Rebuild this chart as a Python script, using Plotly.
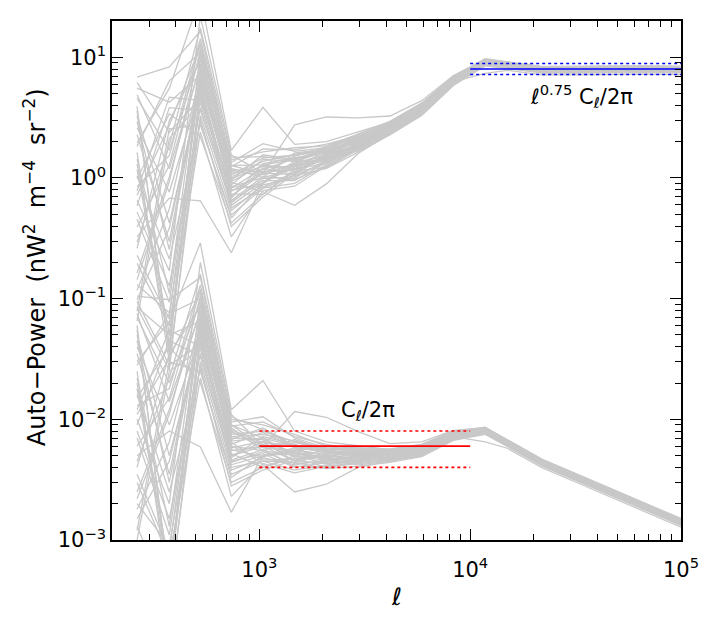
import plotly.graph_objects as go

# multipole bins (low-ell, binned realisations)
ELL = [263, 374, 525, 736, 1040, 1470, 2080, 2940, 4160, 5890, 8330, 11780]
# high-ell tail bins and shared tail shape (units of 1e-3)
ELL_TAIL = [15000, 22000, 33000, 64000, 100000]
TAIL = [6.4, 4.4, 3.25, 2.0, 1.42]

# C_ell/2pi for each simulated realisation, units of 1e-3 nW^2 m^-4 sr^-2
CL = [
    [105, 98, 150, 9.0, 7.0, 6.0, 5.5, 5.0, 5.2, 5.8, 7.6, 8.3],
    [45, 3.0, 60, 6.0, 5.5, 5.0, 4.8, 5.2, 5.0, 5.5, 7.4, 8.1],
    [20, 0.6, 45, 5.0, 6.5, 4.5, 5.0, 4.6, 4.8, 5.6, 7.2, 8.0],
    [8.0, 1.5, 35, 4.2, 5.0, 5.8, 4.5, 4.9, 5.3, 6.0, 7.8, 8.4],
    [2.5, 12, 80, 7.5, 8.0, 6.5, 5.5, 5.3, 5.1, 5.4, 7.5, 8.2],
    [1.2, 30, 25, 3.5, 4.5, 3.8, 4.2, 4.5, 4.7, 5.2, 7.0, 7.9],
    [60, 0.4, 110, 10, 9.0, 7.5, 6.0, 5.8, 5.5, 6.0, 7.7, 8.5],
    [15, 40, 20, 3.0, 4.0, 4.8, 4.0, 4.4, 4.9, 5.3, 7.1, 8.0],
    [5.0, 8.0, 5.9, 1.7, 5.0, 5.2, 4.7, 4.3, 4.6, 5.0, 7.0, 7.8],
    [30, 65, 290, 12, 21, 8.0, 6.5, 6.0, 5.6, 6.2, 8.0, 8.6],
    [3.5, 0.8, 70, 6.5, 4.2, 2.5, 2.9, 4.0, 4.5, 5.1, 6.9, 7.6],
    [12, 55, 40, 5.5, 6.0, 11.6, 10.4, 7.9, 6.3, 6.5, 8.1, 8.5],
    [70, 20, 95, 8.0, 5.8, 5.5, 5.0, 4.8, 5.0, 5.7, 7.5, 8.2],
    [1.5, 4.5, 55, 4.8, 7.2, 6.2, 5.2, 5.5, 5.4, 5.9, 7.6, 8.3],
    [25, 0.35, 30, 3.8, 4.8, 4.2, 4.6, 4.2, 4.5, 5.0, 6.8, 7.7],
    [6.0, 15, 120, 9.5, 10.5, 7.0, 5.8, 5.5, 5.2, 5.6, 7.4, 8.1],
    [40, 9.0, 50, 5.2, 4.0, 5.0, 4.3, 4.7, 4.9, 5.4, 7.3, 8.0],
    [2.0, 0.9, 28, 2.8, 3.8, 4.6, 5.2, 5.0, 4.8, 5.3, 7.0, 7.9],
    [85, 50, 65, 6.8, 8.5, 6.0, 5.3, 5.1, 5.3, 5.8, 7.7, 8.4],
    [10, 2.0, 200, 11, 6.0, 5.5, 6.0, 5.5, 5.0, 5.5, 7.5, 8.2],
    [1.0, 25, 38, 4.5, 5.2, 4.0, 4.4, 4.6, 5.1, 5.7, 7.3, 8.1],
    [18, 0.5, 75, 7.0, 6.8, 5.2, 4.9, 5.4, 5.5, 6.1, 7.9, 8.5],
    [4.0, 35, 85, 8.5, 5.5, 6.8, 5.6, 4.9, 4.7, 5.2, 7.1, 7.9],
    [50, 5.0, 48, 4.0, 4.5, 4.4, 3.9, 4.1, 4.4, 4.9, 6.7, 7.5],
    [7.0, 1.1, 58, 6.2, 7.8, 5.8, 5.4, 5.2, 5.6, 6.0, 7.8, 8.4],
    [28, 75, 100, 7.8, 6.2, 4.9, 4.6, 5.0, 5.0, 5.5, 7.4, 8.2],
    [3.0, 0.7, 22, 2.3, 4.3, 3.6, 4.1, 4.4, 4.6, 5.1, 6.9, 7.8],
    [13, 18, 130, 9.0, 5.9, 6.4, 5.8, 5.7, 5.5, 6.0, 7.6, 8.3],
    [95, 28, 42, 5.8, 6.6, 5.3, 4.8, 4.5, 4.9, 5.4, 7.2, 8.0],
    [1.8, 6.5, 68, 6.0, 4.6, 4.7, 5.0, 5.3, 5.2, 5.7, 7.5, 8.2],
    [22, 1.3, 90, 8.8, 9.5, 7.2, 6.2, 5.6, 5.3, 5.8, 7.6, 8.3],
    [9.0, 45, 33, 4.4, 5.4, 4.3, 4.5, 4.8, 5.0, 5.5, 7.2, 6.5],
    [35, 3.5, 62, 5.6, 4.9, 5.6, 5.1, 4.6, 4.8, 5.3, 7.3, 8.0],
    [2.2, 11, 105, 7.2, 7.5, 6.6, 5.7, 5.4, 5.4, 5.9, 7.7, 8.4],
    [55, 0.45, 52, 4.6, 5.6, 4.1, 4.0, 4.3, 4.6, 5.0, 7.0, 7.8],
    [4.5, 22, 160, 10.5, 8.2, 5.9, 5.3, 5.2, 5.1, 5.6, 7.4, 8.2],
    [16, 2.5, 26, 3.3, 5.0, 5.4, 4.7, 4.9, 5.0, 5.5, 7.3, 8.1],
    [75, 14, 78, 6.6, 7.0, 5.0, 5.5, 5.8, 5.7, 6.2, 7.9, 8.5],
    [1.3, 0.3, 44, 5.0, 6.0, 4.5, 4.3, 4.6, 4.7, 5.2, 7.1, 7.9],
    [11, 32, 115, 8.2, 6.4, 6.1, 5.6, 5.0, 5.3, 5.8, 7.5, 8.3],
]
# per-realisation amplitude of the high-ell tail
TAIL_SCALE = [1.02, 1.00, 0.98, 1.03, 1.01, 0.96, 1.05, 0.97, 0.95, 1.06,
              0.94, 1.04, 1.00, 1.01, 0.95, 1.00, 0.99, 0.97, 1.03, 1.02,
              0.99, 1.04, 0.97, 0.93, 1.02, 1.01, 0.96, 1.02, 0.98, 1.00,
              1.01, 0.90, 0.99, 1.03, 0.96, 1.01, 1.00, 1.05, 0.97, 1.02]

# reference levels
CL_FID, CL_HI, CL_LO = 6.0e-3, 8.0e-3, 4.0e-3
CL_RANGE = [1e3, 1e4]
WT_FID, WT_HI, WT_LO = 8.0, 8.9, 7.2
WT_RANGE = [1e4, 1e5]

GREY = "#c8c8c8"
FONT = "DejaVu Sans"

fig = go.Figure()
ell_all = ELL + ELL_TAIL
for row, s in zip(CL, TAIL_SCALE):
    cl = [v * 1e-3 for v in row] + [t * s * 1e-3 for t in TAIL]
    fig.add_trace(go.Scatter(x=ell_all, y=cl, mode="lines",
                             line=dict(color=GREY, width=1.3),
                             showlegend=False, hoverinfo="skip"))
    # ell^0.75 weighted version
    wt = [l ** 0.75 * c for l, c in zip(ell_all, cl)]
    fig.add_trace(go.Scatter(x=ell_all, y=wt, mode="lines",
                             line=dict(color=GREY, width=1.3),
                             showlegend=False, hoverinfo="skip"))

for val, dash in [(CL_FID, "solid"), (CL_HI, "dot"), (CL_LO, "dot")]:
    fig.add_trace(go.Scatter(x=CL_RANGE, y=[val, val], mode="lines",
                             line=dict(color="#ff0000", width=1.6, dash=dash),
                             showlegend=False))
for val, dash in [(WT_FID, "solid"), (WT_HI, "dot"), (WT_LO, "dot")]:
    fig.add_trace(go.Scatter(x=WT_RANGE, y=[val, val], mode="lines",
                             line=dict(color="#0000ff", width=1.6, dash=dash),
                             showlegend=False))

fig.add_annotation(x=4.53, y=0.68, showarrow=False,
                   text="<i>ℓ</i><sup>0.75</sup> C<sub><i>ℓ</i></sub>/2π",
                   font=dict(family=FONT, size=21, color="black"))
fig.add_annotation(x=3.513, y=-1.93, showarrow=False,
                   text="C<sub><i>ℓ</i></sub>/2π",
                   font=dict(family=FONT, size=21, color="black"))

# axis titles placed as paper annotations
fig.add_annotation(xref="paper", yref="paper", x=-0.135, y=0.526,
                   xanchor="center", yanchor="middle",
                   textangle=-90, showarrow=False,
                   text="Auto−Power  (nW<sup>2</sup>  m<sup>−4</sup>  sr<sup>−2</sup>)",
                   font=dict(family=FONT, size=24, color="black"))
fig.add_annotation(xref="paper", yref="paper", x=0.5, y=-0.11,
                   xanchor="center", yanchor="middle",
                   showarrow=False, text="<i>ℓ</i>",
                   font=dict(family=FONT, size=24, color="black"))

minor_x = [m * 10 ** k for k in (2, 3, 4) for m in range(2, 10)]
minor_y = [m * 10.0 ** k for k in (-3, -2, -1, 0, 1) for m in range(2, 10)]

axis_common = dict(type="log", showgrid=False, zeroline=False,
                   showline=True, linecolor="black", linewidth=1.5,
                   mirror="allticks", ticks="inside", ticklen=11,
                   tickwidth=1.3, tickcolor="black", automargin=False,
                   tickfont=dict(family=FONT, size=21, color="black"))

fig.update_xaxes(**axis_common, range=[2.30103, 5],
                 tickvals=[1e3, 1e4, 1e5],
                 ticktext=["10<sup>3</sup>", "10<sup>4</sup>", "10<sup>5</sup>"],
                 ticklabelstandoff=10,
                 minor=dict(tickvals=minor_x, ticks="inside", ticklen=6,
                            tickwidth=1.1, tickcolor="black"))
fig.update_yaxes(**axis_common, range=[-3, 1.30103],
                 tickvals=[1e-3, 1e-2, 1e-1, 1, 10],
                 ticktext=["10<sup>−3</sup>", "10<sup>−2</sup>", "10<sup>−1</sup>",
                           "10<sup>0</sup>", "10<sup>1</sup>"],
                 minor=dict(tickvals=minor_y, ticks="inside", ticklen=6,
                            tickwidth=1.1, tickcolor="black"))

# page body adds an 8px margin, so the figure is trimmed to fit the window
fig.update_layout(width=693, height=613,
                  margin=dict(l=104, r=20, t=13, b=81),
                  paper_bgcolor="white", plot_bgcolor="white",
                  showlegend=False)

fig.write_html("out.html")
